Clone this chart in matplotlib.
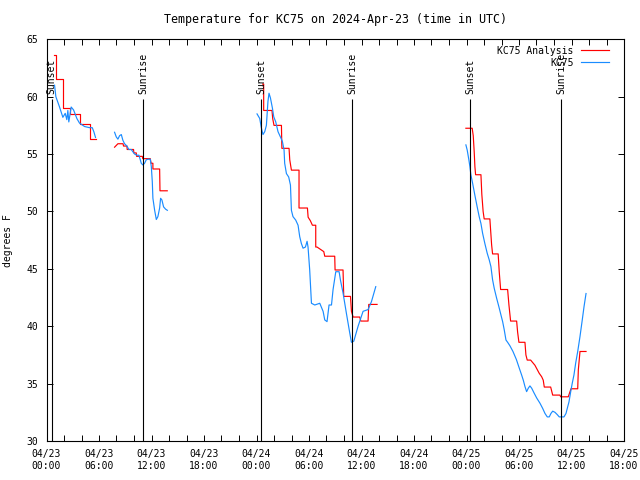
import numpy as np
import pandas as pd
import matplotlib
matplotlib.use('Agg')
import matplotlib.pyplot as plt
import matplotlib.dates as mdates
from matplotlib.lines import Line2D

plt.rcParams['font.family'] = 'DejaVu Sans Mono'
plt.rcParams['font.size'] = 7

START = pd.Timestamp('2024-04-23 00:00')

# hours after 04/23 00:00 UTC -> deg F, one list per night
obs_hours = [
    [0.92, 1.07, 1.49, 1.87, 2.14, 2.32, 2.44, 2.55, 2.82, 3.09, 3.47, 3.77, 4.35, 4.92, 5.23, 5.41, 5.60],
    [7.78, 7.97, 8.16, 8.35, 8.55, 8.73, 8.92, 9.19, 9.41, 9.69, 9.87, 10.07, 10.33, 10.56, 10.72, 10.83,
     11.02, 11.21, 11.40, 11.59, 11.86, 11.98, 12.09, 12.16, 12.36, 12.55, 12.73, 12.93, 13.04, 13.19,
     13.38, 13.61, 13.81],
    [24.06, 24.37, 24.55, 24.74, 24.94, 25.13, 25.31, 25.43, 25.59, 25.82, 25.97, 26.20, 26.46, 26.73,
     26.96, 27.15, 27.22, 27.42, 27.68, 27.88, 27.99, 28.17, 28.48, 28.75, 28.94, 29.13, 29.32, 29.59,
     29.78, 29.89, 30.08, 30.28, 30.66, 31.23, 31.61, 31.80, 32.06, 32.29, 32.57, 32.75, 33.06, 33.44,
     33.60, 33.89, 34.28, 34.66, 34.85, 35.12, 35.61, 36.18, 36.75, 37.14, 37.63],
    [47.93, 48.08, 48.27, 48.39, 48.50, 48.70, 48.96, 49.22, 49.45, 49.65, 49.84, 50.10, 50.37, 50.59,
     50.79, 50.98, 51.17, 51.44, 51.70, 51.93, 52.13, 52.31, 52.51, 52.70, 52.96, 53.31, 53.70, 54.03,
     54.30, 54.49, 54.68, 54.87, 55.06, 55.25, 55.45, 55.71, 56.02, 56.39, 56.70, 56.97, 57.23, 57.46,
     57.65, 57.85, 58.11, 58.37, 58.60, 58.88, 59.14, 59.37, 59.52, 59.71, 59.91, 60.09, 60.28, 60.48,
     60.71, 60.97, 61.23, 61.43, 61.66],
]
obs_temp = [
    [61.0, 60.0, 59.1, 58.2, 58.55, 58.0, 58.8, 57.8, 59.1, 58.85, 58.1, 57.7, 57.4, 57.3, 57.3, 56.95, 56.45],
    [56.9, 56.5, 56.3, 56.6, 56.7, 56.2, 55.9, 55.7, 55.4, 55.4, 55.2, 55.0, 54.9, 54.9, 54.5, 54.2,
     54.05, 54.2, 54.5, 54.55, 54.55, 53.9, 52.6, 51.15, 50.1, 49.3, 49.55, 50.3, 51.15, 51.0,
     50.4, 50.2, 50.1],
    [58.5, 58.1, 57.3, 56.7, 56.95, 57.5, 59.6, 60.3, 59.9, 59.0, 58.25, 57.8, 56.95, 56.5,
     56.1, 55.35, 54.2, 53.3, 53.0, 52.3, 50.1, 49.55, 49.25, 48.8, 47.8, 47.2, 46.8, 46.9,
     47.4, 46.9, 44.9, 42.0, 41.85, 42.0, 41.3, 40.55, 40.4, 41.85, 41.85, 43.2, 44.75, 44.75,
     44.0, 42.9, 41.1, 39.4, 38.6, 38.7, 40.0, 41.3, 41.45, 42.15, 43.45],
    [55.8, 55.35, 54.5, 53.9, 53.2, 52.45, 51.4, 50.4, 49.55, 48.95, 48.1, 47.2, 46.35, 45.8,
     45.2, 44.05, 43.3, 42.45, 41.7, 41.0, 40.4, 39.7, 38.8, 38.6, 38.3, 37.8, 37.1, 36.35,
     35.75, 35.3, 34.75, 34.3, 34.6, 34.8, 34.6, 34.2, 33.75, 33.3, 32.85, 32.4, 32.1, 32.1,
     32.4, 32.6, 32.5, 32.3, 32.1, 32.1, 32.1, 32.4, 32.85, 33.4, 34.3, 35.05, 35.75, 36.8,
     37.8, 39.1, 40.55, 41.7, 42.85],
]

ana_hours = [
    [0.80, 1.03, 1.03, 1.94, 1.94, 2.71, 2.71, 3.78, 3.78, 4.92, 4.92, 5.60],
    [7.78, 8.16, 8.75, 8.80, 9.19, 9.22, 9.95, 9.98, 10.26, 10.30, 10.95, 11.00, 11.86, 11.95,
     12.16, 12.16, 12.93, 12.97, 13.80],
    [24.70, 24.82, 24.82, 25.77, 25.85, 26.00, 26.85, 26.90, 27.72, 27.80, 27.99, 28.86, 28.86,
     29.82, 29.90, 30.15, 30.39, 30.77, 30.77, 30.92, 31.69, 31.80, 32.94, 32.98, 33.89, 33.97,
     34.74, 34.85, 35.04, 35.80, 35.92, 36.75, 36.83, 37.78],
    [47.93, 48.65, 48.77, 48.88, 48.96, 49.04, 49.65, 49.75, 49.90, 50.02, 50.67, 50.87, 50.98,
     51.62, 51.74, 51.90, 52.70, 52.85, 53.04, 53.73, 53.84, 53.99, 54.68, 54.79, 54.94, 55.33,
     55.82, 56.31, 56.59, 56.77, 56.89, 57.62, 57.85, 58.68, 58.76, 59.63, 59.94, 60.71, 60.78,
     60.97, 61.66],
]
ana_temp = [
    [63.6, 63.6, 61.5, 61.5, 59.0, 59.0, 58.5, 58.5, 57.6, 57.6, 56.3, 56.3],
    [55.6, 55.9, 55.9, 55.7, 55.7, 55.4, 55.4, 55.1, 55.1, 54.8, 54.8, 54.6, 54.6, 54.2,
     54.2, 53.7, 53.7, 51.8, 51.8],
    [61.1, 61.1, 58.8, 58.8, 58.1, 57.5, 57.5, 55.5, 55.5, 54.5, 53.6, 53.6, 50.3,
     50.3, 49.5, 49.2, 48.8, 48.8, 46.9, 46.9, 46.5, 46.1, 46.1, 44.9, 44.9, 42.6,
     42.6, 41.3, 40.8, 40.8, 40.45, 40.45, 41.9, 41.9],
    [57.25, 57.25, 56.6, 55.2, 53.9, 53.2, 53.2, 51.5, 50.0, 49.35, 49.35, 47.1, 46.3,
     46.3, 44.75, 43.2, 43.2, 41.85, 40.45, 40.45, 39.5, 38.6, 38.6, 37.5, 37.05, 37.05,
     36.6, 35.9, 35.6, 35.3, 34.7, 34.7, 34.0, 34.0, 33.85, 33.85, 34.55, 34.55, 36.2,
     37.8, 37.8],
]

sun_hours = [0.61, 11.02, 24.51, 34.92, 48.42, 58.83]
sun_labels = ['Sunset', 'Sunrise', 'Sunset', 'Sunrise', 'Sunset', 'Sunrise']


def to_time(hours):
    return START + pd.to_timedelta(np.array(hours), unit='h')


fig = plt.figure(figsize=(6.4, 4.8), dpi=100)
ax = fig.add_axes([46.5 / 640, 1 - 441 / 480, 577.5 / 640, 401.7 / 480])

for h, t in zip(ana_hours, ana_temp):
    ax.plot(to_time(h), t, color='#ff0000', lw=0.85)
for h, t in zip(obs_hours, obs_temp):
    ax.plot(to_time(h), t, color='#1a8cff', lw=0.85)

ax.vlines(to_time(sun_hours), 30, 59.8, color='black', lw=0.8)
for h, lab in zip(sun_hours, sun_labels):
    ax.text(to_time([h])[0], 60.25, lab, rotation=90, ha='center', va='bottom')

ax.set_xlim(START, START + pd.Timedelta(hours=66))
ax.set_ylim(30, 65)
ax.set_yticks(np.arange(30, 66, 5))
ax.xaxis.set_major_locator(mdates.HourLocator(byhour=[0, 6, 12, 18]))
ax.xaxis.set_minor_locator(mdates.HourLocator(byhour=range(0, 24, 2)))
ax.xaxis.set_major_formatter(mdates.DateFormatter('%m/%d\n%H:%M'))
ax.tick_params(which='both', direction='in', top=True, right=True, length=4.5, width=0.7)
ax.tick_params(axis='x', pad=6)
ax.tick_params(axis='y', pad=6)
for s in ax.spines.values():
    s.set_linewidth(0.8)

ax.set_ylabel('degrees F')
ax.yaxis.set_label_coords(-0.058, 0.5)
ax.set_title('Temperature for KC75 on 2024-Apr-23 (time in UTC)', pad=12)

handles = [Line2D([], [], color='#ff0000', lw=0.85), Line2D([], [], color='#1a8cff', lw=0.85)]
ax.legend(handles, ['KC75 Analysis', 'KC75'], loc='upper right', bbox_to_anchor=(0.9735, 0.984),
          markerfirst=False, frameon=False, borderaxespad=0, borderpad=0,
          handlelength=2.9, handletextpad=0.7, labelspacing=0.2)

fig.savefig('out.png', dpi=100)
